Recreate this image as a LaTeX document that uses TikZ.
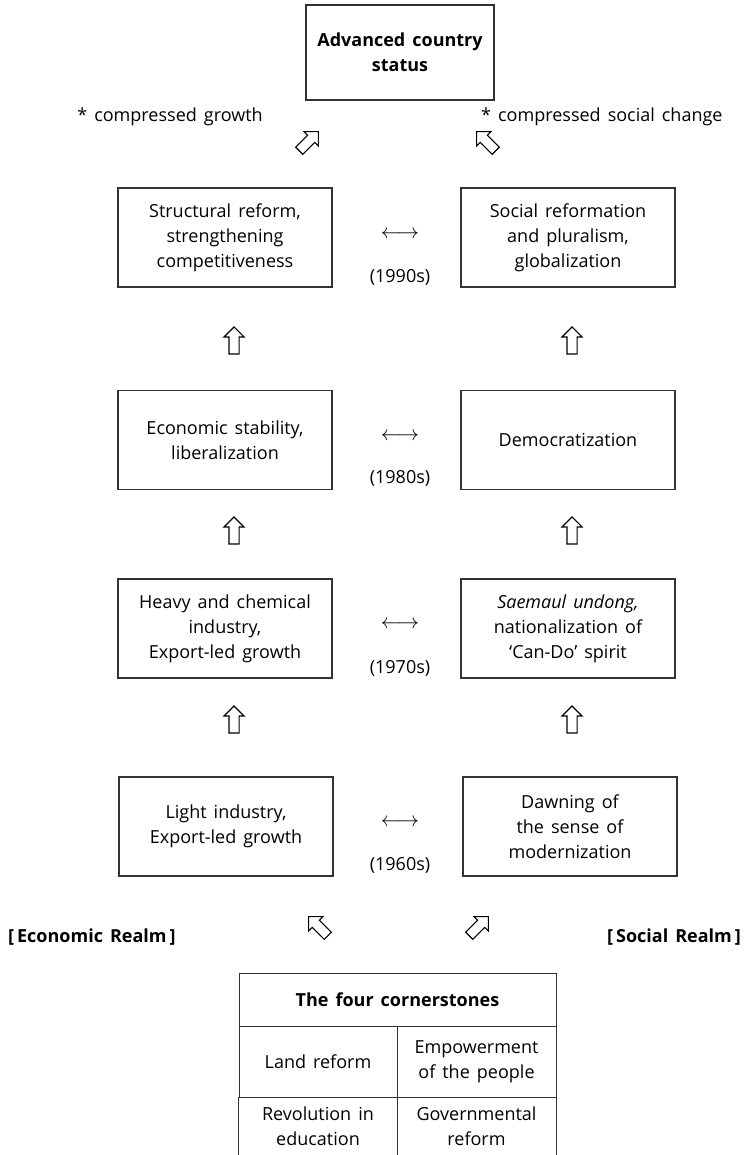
\documentclass[tikz,border=0pt]{standalone}
\usepackage{fontspec}
\setmainfont[WordSpace=1.5]{Open Sans}
\usetikzlibrary{shapes.arrows}
\newcommand{\fsz}{\fontsize{18}{25}\selectfont}
\tikzset{
  box/.style={draw=black!80, line width=1.1pt, minimum width=214pt, minimum height=99pt, align=center, font=\fsz, inner sep=2pt},
  lbl/.style={font=\fsz, inner sep=0pt},
  bigarr/.style={single arrow, draw=black, fill=white, line width=1.1pt, inner xsep=0pt, inner ysep=4.5pt, single arrow head extend=5pt, minimum height=27pt, font=\fontsize{1}{1}\selectfont},
  dbl/.style={font=\fontsize{21}{21}\selectfont, inner sep=0pt},
  cell/.style={draw=black!80, line width=1pt, align=center, font=\fsz, inner sep=0pt},
}
\begin{document}
\begin{tikzpicture}[x=1pt,y=-1pt]
\useasboundingbox[fill=white] (0,0) rectangle (751,1155);
% top
\node[box, minimum width=188pt, minimum height=95pt, font=\fsz\bfseries] (top) at (400,52.5) {Advanced country\\ status};
\node[lbl] (cg) at (170,117) {* compressed growth};
\node[lbl, anchor=west] (cs) at (481,117) {* compressed social change};
\node[bigarr, rotate=45] (ta1) at (307,143) {};
\node[bigarr, rotate=135] (ta2) at (488,143) {};
% row 1 (1990s)
\node[box] (e1) at (225,237.5) {Structural reform,\\ strengthening\\ competitiveness};
\node[box] (s1) at (568,237.5) {Social reformation\\ and pluralism,\\ globalization};
\node[dbl] (d1) at (400,235) {$\longleftrightarrow$};
\node[lbl] (y1) at (400,277) {(1990s)};
\node[bigarr, rotate=90] (ua1) at (234,343) {};
\node[bigarr, rotate=90] (ub1) at (572,343) {};
% row 2 (1980s)
\node[box] (e2) at (225,440) {Economic stability,\\ liberalization};
\node[box] (s2) at (568,440) {Democratization};
\node[dbl] (d2) at (400,437) {$\longleftrightarrow$};
\node[lbl] (y2) at (400,478) {(1980s)};
\node[bigarr, rotate=90] (ua2) at (234,533) {};
\node[bigarr, rotate=90] (ub2) at (572,533) {};
% row 3 (1970s)
\node[box] (e3) at (225,628.5) {Heavy and chemical\\ industry,\\ Export-led growth};
\node[box] (s3) at (568,628.5) {\textit{Saemaul undong,}\\ nationalization of\\ `Can-Do' spirit};
\node[dbl] (d3) at (400,625) {$\longleftrightarrow$};
\node[lbl] (y3) at (400,668) {(1970s)};
\node[bigarr, rotate=90] (ua3) at (234,722) {};
\node[bigarr, rotate=90] (ub3) at (572,722) {};
% row 4 (1960s)
\node[box] (e4) at (226,826.5) {Light industry,\\ Export-led growth};
\node[box] (s4) at (570,826.5) {Dawning of\\ the sense of\\ modernization};
\node[dbl] (d4) at (400,823) {$\longleftrightarrow$};
\node[lbl] (y4) at (400,865) {(1960s)};
% realms
\node[lbl, font=\fsz\bfseries, anchor=west] (er) at (8,937) {[\,Economic Realm\,]};
\node[lbl, font=\fsz\bfseries, anchor=east] (sr) at (741,937) {[\,Social Realm\,]};
\node[bigarr, rotate=135] (ba1) at (320,928) {};
\node[bigarr, rotate=45] (ba2) at (477,928) {};
% table
\node[cell, minimum width=317pt, minimum height=53pt, font=\fsz\bfseries] (th) at (397.5,999.5) {The four cornerstones};
\node[cell, minimum width=158pt, minimum height=71pt] (c1) at (318,1061.5) {Land reform};
\node[cell, minimum width=159pt, minimum height=71pt] (c2) at (476.5,1061.5) {Empowerment\\ of the people};
\node[align=center, font=\fsz, inner sep=0pt, minimum width=158pt, minimum height=58pt] (c3) at (318,1126) {Revolution in\\ education};
\node[align=center, font=\fsz, inner sep=0pt, minimum width=159pt, minimum height=58pt] (c4) at (476.5,1126) {Governmental\\ reform};
\draw[draw=black!80, line width=1pt] (c3.north west) -- (c3.south west);
\draw[draw=black!80, line width=1pt] (c3.north east) -- (c3.south east);
\draw[draw=black!80, line width=1pt] (c4.north east) -- (c4.south east);
\end{tikzpicture}
\end{document}
